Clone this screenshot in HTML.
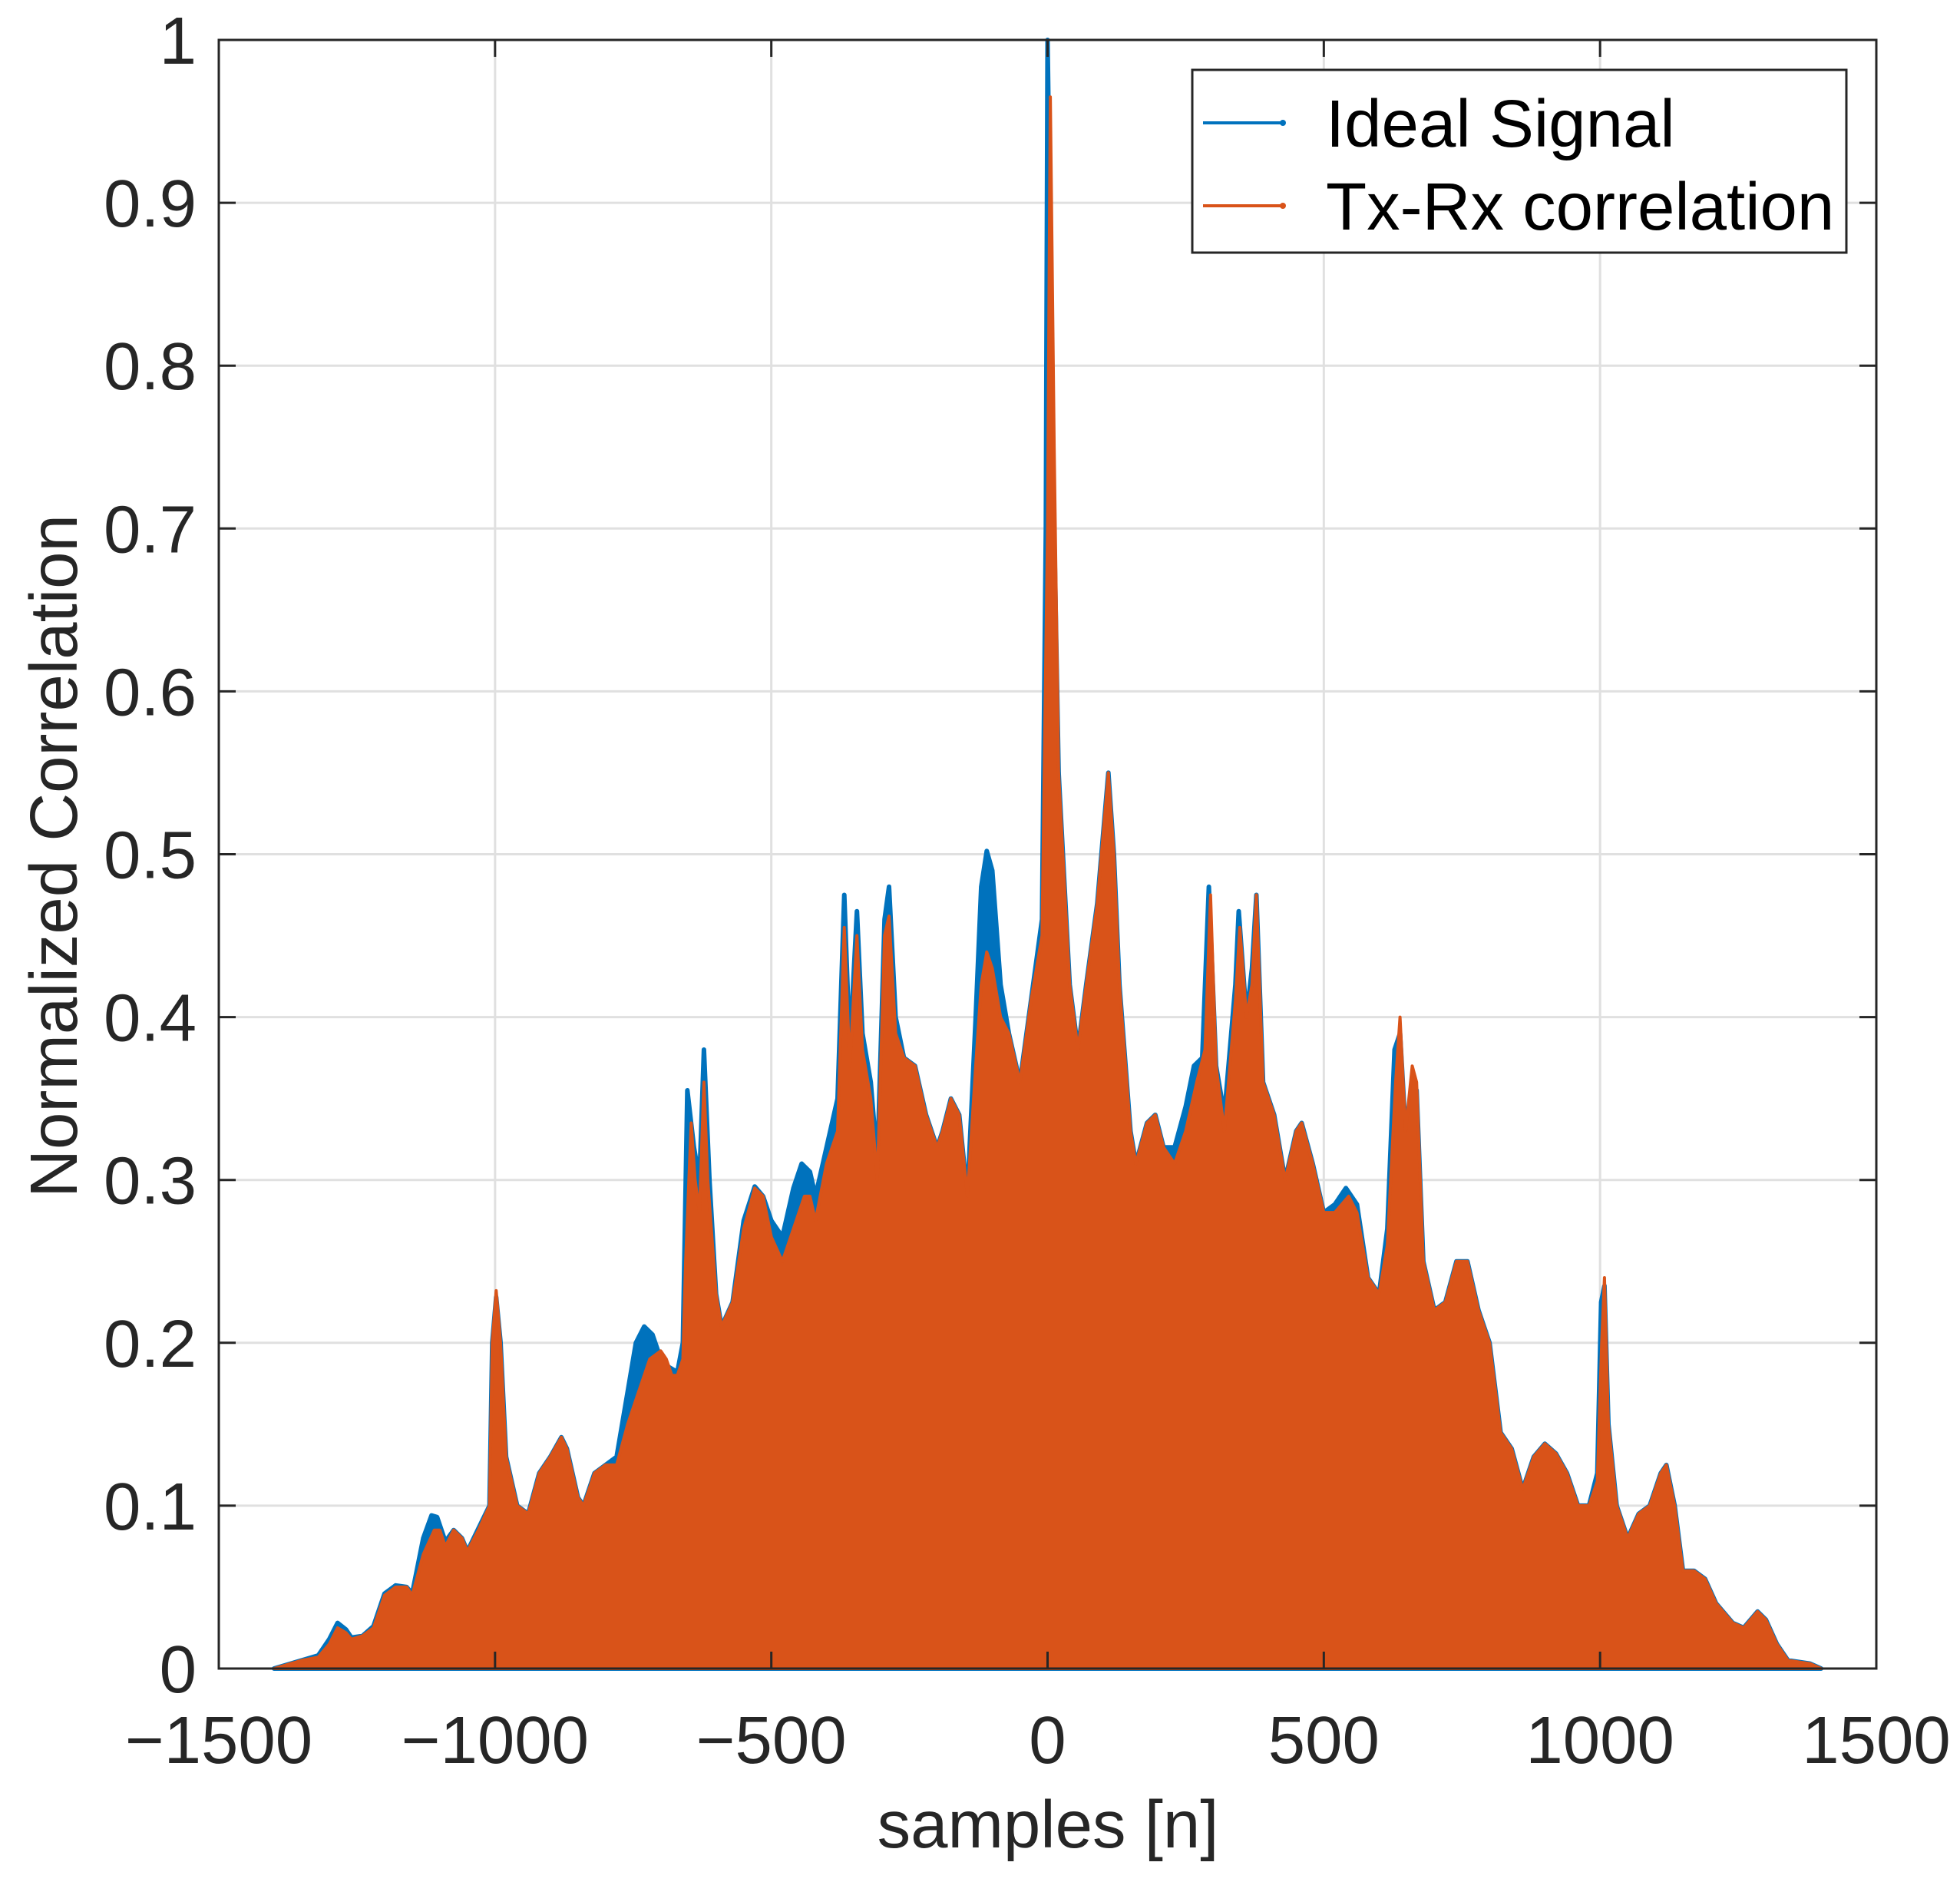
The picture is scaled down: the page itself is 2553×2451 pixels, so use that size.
<!DOCTYPE html>
<html><head><meta charset="utf-8"><style>
html,body{margin:0;padding:0;background:#fff}
svg{display:block;font-family:"Liberation Sans",Arial,sans-serif}
</style></head><body>
<svg id="chart" width="2553" height="2451" viewBox="0 0 2553 2451" xmlns="http://www.w3.org/2000/svg">
<rect width="2553" height="2451" fill="#fff"/>
<g id="grid"></g>
<g id="series"></g>
<g id="axes"></g>
<text x="1365" y="2406" font-size="87" text-anchor="middle" fill="#262626">samples [n]</text>
<text transform="translate(100,1115) rotate(-90)" font-size="87" text-anchor="middle" fill="#262626">Normalized Correlation</text>
<g>
<rect x="1553" y="91" width="852" height="238" fill="#fff" stroke="#262626" stroke-width="3"/>
<g>
<line x1="1567" y1="160" x2="1673" y2="160" stroke="#0072BD" stroke-width="4"/>
<circle cx="1671" cy="160" r="4" fill="#0072BD"/>
<text x="1727" y="191" font-size="87" fill="#000">Ideal Signal</text>
</g>
<g>
<line x1="1567" y1="268" x2="1673" y2="268" stroke="#D95319" stroke-width="4"/>
<circle cx="1671" cy="268" r="4" fill="#D95319"/>
<text x="1727" y="299" font-size="87" fill="#000">Tx-Rx correlation</text>
</g>
</g>
</svg>
<script>
const xTicks=[-1500,-1000,-500,0,500,1000,1500];
const xTickLabels=["\u22121500","\u22121000","\u2212500","0","500","1000","1500"];
const yTicks=[0,0.1,0.2,0.3,0.4,0.5,0.6,0.7,0.8,0.9,1];
const yTickLabels=["0","0.1","0.2","0.3","0.4","0.5","0.6","0.7","0.8","0.9","1"];
const idealSignal=[[-1400,0],[-1350,0.005],[-1320,0.008],[-1300,0.018],[-1285,0.028],[-1270,0.024],[-1260,0.019],[-1240,0.02],[-1220,0.026],[-1200,0.046],[-1180,0.051],[-1160,0.05],[-1150,0.046],[-1130,0.08],[-1115,0.094],[-1105,0.093],[-1090,0.078],[-1075,0.085],[-1060,0.08],[-1050,0.072],[-1030,0.086],[-1010,0.1],[-1005,0.2],[-998,0.228],[-990,0.2],[-980,0.13],[-960,0.1],[-940,0.095],[-920,0.12],[-900,0.13],[-880,0.142],[-870,0.135],[-850,0.105],[-840,0.1],[-820,0.12],[-800,0.125],[-780,0.13],[-760,0.17],[-745,0.2],[-730,0.21],[-715,0.205],[-700,0.19],[-685,0.185],[-670,0.182],[-660,0.2],[-652,0.355],[-640,0.32],[-630,0.3],[-622,0.38],[-612,0.3],[-600,0.23],[-590,0.21],[-570,0.225],[-550,0.275],[-530,0.296],[-515,0.29],[-500,0.275],[-480,0.265],[-460,0.295],[-445,0.31],[-430,0.305],[-420,0.29],[-400,0.32],[-380,0.35],[-368,0.475],[-358,0.38],[-345,0.465],[-335,0.39],[-320,0.36],[-308,0.31],[-295,0.46],[-287,0.48],[-275,0.4],[-260,0.375],[-240,0.37],[-220,0.34],[-200,0.32],[-190,0.33],[-175,0.35],[-160,0.34],[-145,0.29],[-130,0.4],[-120,0.48],[-110,0.502],[-100,0.49],[-85,0.42],[-70,0.39],[-50,0.36],[-30,0.41],[-10,0.46],[-3,0.7],[0,1.0],[6,0.85],[12,0.7],[20,0.55],[40,0.42],[55,0.38],[70,0.42],[90,0.47],[110,0.55],[120,0.5],[130,0.42],[150,0.33],[160,0.31],[180,0.335],[195,0.34],[210,0.32],[230,0.32],[250,0.345],[265,0.37],[280,0.375],[292,0.48],[305,0.37],[320,0.34],[340,0.42],[346,0.465],[360,0.4],[370,0.43],[378,0.475],[390,0.36],[410,0.34],[430,0.3],[450,0.33],[460,0.335],[480,0.31],[500,0.28],[520,0.285],[540,0.295],[560,0.285],[580,0.24],[600,0.23],[615,0.27],[628,0.38],[638,0.39],[648,0.33],[662,0.36],[668,0.355],[680,0.25],[700,0.22],[720,0.225],[740,0.25],[760,0.25],[780,0.22],[800,0.2],[820,0.145],[840,0.135],[860,0.11],[880,0.13],[900,0.138],[920,0.132],[940,0.12],[960,0.1],[980,0.1],[995,0.12],[1002,0.225],[1008,0.235],[1015,0.15],[1030,0.1],[1050,0.08],[1070,0.095],[1090,0.1],[1110,0.12],[1120,0.125],[1135,0.1],[1150,0.06],[1170,0.06],[1190,0.055],[1210,0.04],[1240,0.028],[1260,0.025],[1285,0.035],[1300,0.03],[1320,0.015],[1340,0.005],[1380,0.003],[1400,0]];
const txRxCorrelation=[[-1400,0],[-1350,0.005],[-1320,0.007],[-1300,0.015],[-1285,0.025],[-1270,0.022],[-1260,0.018],[-1240,0.02],[-1220,0.025],[-1200,0.045],[-1180,0.05],[-1160,0.05],[-1150,0.045],[-1130,0.07],[-1110,0.085],[-1100,0.085],[-1090,0.075],[-1075,0.085],[-1060,0.08],[-1050,0.072],[-1030,0.085],[-1010,0.1],[-1005,0.2],[-998,0.232],[-990,0.2],[-980,0.13],[-960,0.1],[-940,0.095],[-920,0.12],[-900,0.13],[-880,0.142],[-870,0.135],[-850,0.105],[-840,0.1],[-820,0.12],[-800,0.125],[-780,0.125],[-760,0.15],[-740,0.17],[-720,0.19],[-700,0.195],[-690,0.19],[-680,0.18],[-670,0.18],[-660,0.19],[-655,0.25],[-645,0.335],[-638,0.3],[-630,0.28],[-622,0.36],[-615,0.3],[-600,0.23],[-590,0.21],[-570,0.225],[-550,0.27],[-530,0.295],[-515,0.29],[-500,0.265],[-480,0.25],[-460,0.27],[-440,0.29],[-430,0.29],[-420,0.275],[-400,0.31],[-380,0.33],[-368,0.455],[-358,0.37],[-345,0.45],[-335,0.38],[-320,0.35],[-308,0.3],[-295,0.45],[-287,0.462],[-275,0.39],[-260,0.375],[-240,0.37],[-220,0.34],[-200,0.32],[-190,0.33],[-175,0.35],[-160,0.34],[-145,0.29],[-130,0.37],[-120,0.42],[-110,0.44],[-100,0.43],[-85,0.4],[-70,0.39],[-50,0.36],[-30,0.41],[-10,0.45],[0,0.7],[5,0.965],[12,0.75],[20,0.55],[40,0.42],[55,0.38],[70,0.42],[90,0.47],[110,0.55],[120,0.5],[130,0.42],[150,0.33],[160,0.31],[180,0.335],[195,0.34],[210,0.32],[230,0.31],[250,0.33],[270,0.36],[285,0.38],[295,0.475],[305,0.37],[320,0.33],[340,0.41],[348,0.455],[360,0.4],[370,0.42],[378,0.475],[390,0.36],[410,0.34],[430,0.3],[450,0.33],[460,0.335],[480,0.31],[500,0.28],[520,0.28],[545,0.29],[560,0.28],[580,0.24],[600,0.23],[615,0.26],[630,0.36],[638,0.4],[648,0.33],[660,0.37],[668,0.36],[680,0.25],[700,0.22],[720,0.225],[740,0.25],[760,0.25],[780,0.22],[800,0.2],[820,0.145],[840,0.135],[860,0.11],[880,0.13],[900,0.138],[920,0.132],[940,0.12],[960,0.1],[980,0.1],[995,0.115],[1003,0.2],[1008,0.24],[1015,0.15],[1030,0.1],[1050,0.08],[1070,0.095],[1090,0.1],[1110,0.12],[1120,0.125],[1135,0.1],[1150,0.06],[1170,0.06],[1190,0.055],[1210,0.04],[1240,0.028],[1260,0.025],[1285,0.035],[1300,0.03],[1320,0.015],[1340,0.005],[1380,0.003],[1400,0]];

const NS="http://www.w3.org/2000/svg";
const L=285,R=2444,T=52,B=2173;
function xs(v){return L+(v+1500)/3000*(R-L);}
function ys(v){return B-v*(B-T);}
function mk(tag,attrs,parent){const e=document.createElementNS(NS,tag);for(const k in attrs)e.setAttribute(k,attrs[k]);parent.appendChild(e);return e;}
const grid=document.getElementById('grid'),axes=document.getElementById('axes'),series=document.getElementById('series');
xTicks.forEach((t,i)=>{
  if(i>0&&i<xTicks.length-1){const g=mk('line',{x1:xs(t),x2:xs(t),y1:T,y2:B,stroke:'#e0e0e0','stroke-width':3},grid);
  
  }
  const a=mk('line',{x1:xs(t),x2:xs(t),y1:B,y2:B-22,stroke:'#262626','stroke-width':3},axes);
  
  
  const b=mk('line',{x1:xs(t),x2:xs(t),y1:T,y2:T+22,stroke:'#262626','stroke-width':3},axes);
  
  
  const tx=mk('text',{x:xs(t),y:2296,'font-size':87,'text-anchor':'middle',fill:'#262626'},axes);
  tx.textContent=xTickLabels[i];
  
  
});
yTicks.forEach((t,i)=>{
  if(i>0&&i<yTicks.length-1){const g=mk('line',{x1:L,x2:R,y1:ys(t),y2:ys(t),stroke:'#e0e0e0','stroke-width':3},grid);
  
  }
  const a=mk('line',{x1:L,x2:L+22,y1:ys(t),y2:ys(t),stroke:'#262626','stroke-width':3},axes);
  
  
  const b=mk('line',{x1:R,x2:R-22,y1:ys(t),y2:ys(t),stroke:'#262626','stroke-width':3},axes);
  
  
  const tx=mk('text',{x:256,y:ys(t)+31,'font-size':87,'text-anchor':'end',fill:'#262626'},axes);
  tx.textContent=yTickLabels[i];
  
  
});
function area(data,color,name,sw){
  let d='M'+xs(data[0][0])+','+ys(0);
  data.forEach(p=>{d+=' L'+xs(p[0]).toFixed(1)+','+ys(p[1]).toFixed(1);});
  d+=' L'+xs(data[data.length-1][0])+','+ys(0)+' Z';
  const p=mk('path',{d:d,fill:color,stroke:color,'stroke-width':sw,'stroke-linejoin':'round'},series);
  
  
}
area(idealSignal,'#0072BD','ideal-signal-series',6);
area(txRxCorrelation,'#D95319','txrx-correlation-series',4);
const box=mk('rect',{x:L,y:T,width:R-L,height:B-T,fill:'none',stroke:'#262626','stroke-width':3},axes);


</script>
</body></html>
